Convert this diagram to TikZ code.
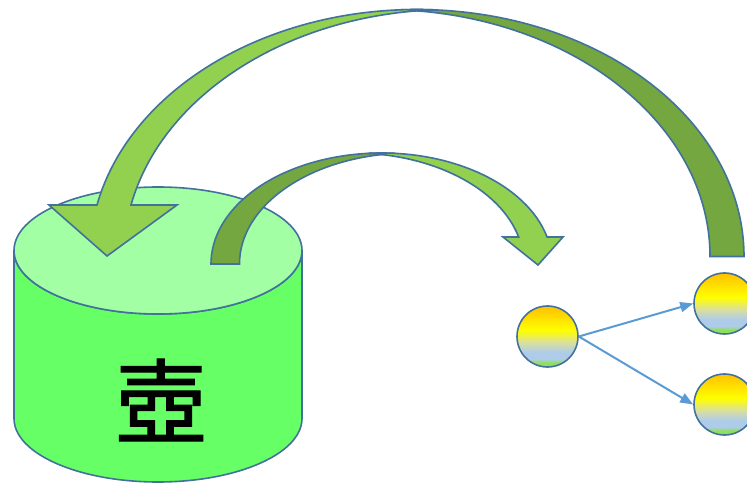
\documentclass[tikz,border=0pt]{standalone}
\usepackage{fontspec}
\newfontfamily\cjk[FakeBold=1.2]{Noto Sans CJK JP}
\usetikzlibrary{arrows.meta}
\definecolor{edge}{HTML}{41719C}
\definecolor{cyltop}{HTML}{A3FFA3}
\definecolor{cylbody}{HTML}{66FF66}
\definecolor{arrlight}{HTML}{92D050}
\definecolor{arrdark}{HTML}{74A740}
\definecolor{link}{HTML}{5B9BD5}
\definecolor{gorange}{HTML}{FFC000}
\definecolor{gyellow}{HTML}{FFFF00}
\definecolor{gmid}{HTML}{D9DFA0}
\definecolor{gblue}{HTML}{AECCEA}
\definecolor{ggreen}{HTML}{8EE05A}
\pgfdeclareverticalshading{ballshade}{100bp}{%
  color(0bp)=(ggreen); color(25bp)=(ggreen); color(28.5bp)=(ggreen); color(31.5bp)=(gblue);
  color(37bp)=(gblue); color(45bp)=(gmid); color(55bp)=(gyellow);
  color(75bp)=(gorange); color(100bp)=(gorange)}
\tikzset{
  outl/.style={draw=edge, line width=1.6pt, line join=miter},
  ball/.style={circle, minimum size=61pt, inner sep=0pt, draw=edge, line width=1.6pt, shading=ballshade},
  link/.style={draw=link, line width=2pt, -{Triangle[length=13pt,width=10pt]}}
}
\begin{document}
\begin{tikzpicture}[x=1pt,y=1pt]
\useasboundingbox (0,0) rectangle (747,485);
\clip (0,0) rectangle (747,485);
% cylinder
\path[outl, fill=cylbody] (14,234.5) -- (14,66.5)
  arc[start angle=180,end angle=360,x radius=144,y radius=63.5]
  -- (302,234.5)
  arc[start angle=360,end angle=180,x radius=144,y radius=63.5] -- cycle;
\path[outl, fill=cyltop] (158,234.5) ellipse[x radius=144,y radius=63.5];
\node[font=\cjk\fontsize{92}{92}\selectfont, inner sep=0pt] (pot) at (161,85) {壺};
% big curved arrow: dark tail band
\path[outl, fill=arrdark] (744,228.5)
  arc[start angle=0,end angle=92.98,x radius=327.1,y radius=247]
  arc[start angle=87.02,end angle=0,x radius=327.1,y radius=247] -- cycle;
% big curved arrow: light band with head
\path[outl, fill=arrlight] ([shift={(416.9,228.5)}]87.02:327.1 and 247)
  arc[start angle=87.02,end angle=167.965,x radius=327.1,y radius=247]
  -- (49,280) -- (107,229) -- (177,280) -- (131,280)
  arc[start angle=167.965,end angle=92.98,x radius=327.1,y radius=247] -- cycle;
% small curved arrow: dark tail band
\path[outl, fill=arrdark] (211,221)
  arc[start angle=180,end angle=85.21,x radius=170.6,y radius=111]
  arc[start angle=94.79,end angle=180,x radius=170.6,y radius=111] -- cycle;
% small curved arrow: light band with head
\path[outl, fill=arrlight] ([shift={(381.6,221)}]94.79:170.6 and 111)
  arc[start angle=94.79,end angle=14.08,x radius=170.6,y radius=111]
  -- (563,248) -- (538,220) -- (503,248) -- (518.6,248)
  arc[start angle=14.08,end angle=85.21,x radius=170.6,y radius=111] -- cycle;
% balls
\node[ball] (c1) at (547.5,148.5) {};
\node[ball] (c2) at (724.5,181.5) {};
\node[ball] (c3) at (724.5,80.5) {};
\draw[link] (c1.east) -- (c2.west);
\draw[link] (c1.east) -- (c3.west);
\end{tikzpicture}
\end{document}
